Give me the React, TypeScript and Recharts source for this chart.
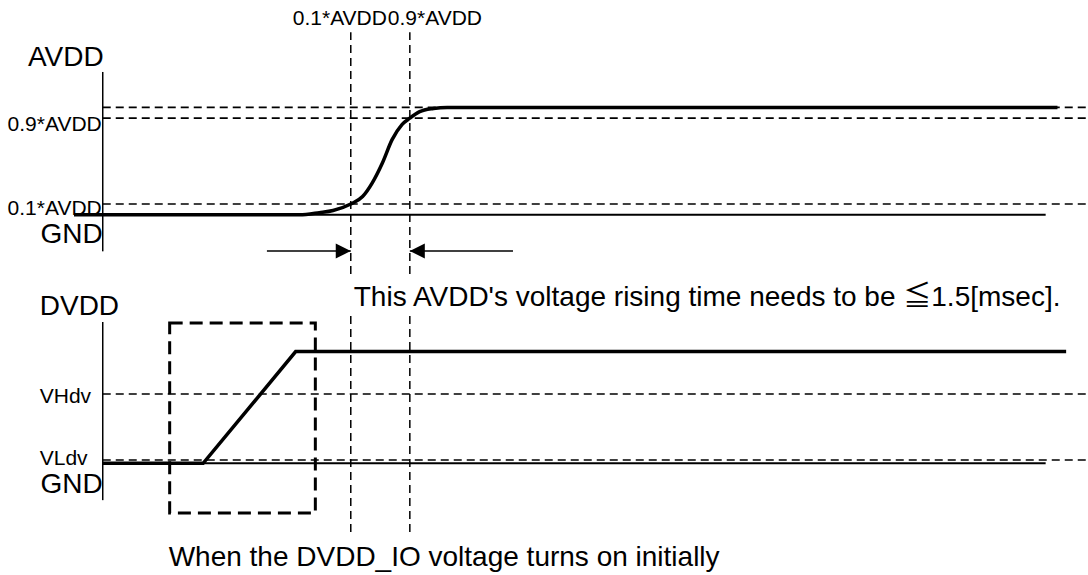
import React from "react";
import {
  ComposedChart,
  Line,
  Scatter,
  XAxis,
  YAxis,
  ReferenceLine,
  ReferenceArea,
  Label,
} from "recharts";

const FONT = '"Liberation Sans", Arial, "Noto Sans CJK JP", sans-serif';

// time in msec, levels as a fraction of the supply voltage
const timeDomain = [-2, 25];

// AVDD waveform (top panel)
const avddTime = [-0.73, 5.0, 5.5, 5.85, 6.3, 6.6, 6.85, 7.1, 7.35, 7.6, 7.8, 8.05, 8.4, 8.75, 24.25];
const avddLevel = [0, 0, 0.02, 0.04, 0.1, 0.17, 0.3, 0.48, 0.7, 0.84, 0.9, 0.96, 0.99, 1, 1];
const avddRefLevels = [1, 0.9, 0.1];
const avddRefLabels = ["", "0.9*AVDD", "0.1*AVDD"];
const avddGndSpan = [-0.73, 23.95];

// rise time markers (0.1 -> 0.9 of AVDD)
const riseMarks = [6.3, 7.8];
const riseMarkLabels = ["0.1*AVDD", "0.9*AVDD"];
const riseArrowEnds = [4.17, 10.42];

// DVDD waveform (bottom panel)
const dvddTime = [0, 2.55, 4.9, 24.47];
const dvddLevel = [0, 0, 1, 1];
const dvddRefLevels = [0.62, 0.03];
const dvddRefLabels = ["VHdv", "VLdv"];
const dvddGndSpan = [0, 23.95];
const ioWindow = [1.7, 5.4];

const avddData = avddTime.map((t, i) => ({ t, v: avddLevel[i] }));
const dvddData = dvddTime.map((t, i) => ({ t, v: dvddLevel[i] }));
const arrowData = [
  { t: riseMarks[0], v: -0.337, dir: 1 },
  { t: riseMarks[1], v: -0.337, dir: -1 },
];

type NoteOpts = {
  dx?: number;
  dy?: number;
  size?: number;
  anchor?: "start" | "middle" | "end";
  at?: "top" | "bottom";
};

// text placed relative to the element it is attached to
const note =
  (text: string, { dx = 0, dy = 0, size = 21, anchor = "end", at = "top" }: NoteOpts) =>
  (props: any) => {
    const vb = props.viewBox || { x: 0, y: 0, width: 0, height: 0 };
    const y = at === "top" ? vb.y : vb.y + vb.height;
    return (
      <text x={vb.x + dx} y={y + dy} fontSize={size} textAnchor={anchor} fontFamily={FONT} fill="#000">
        {text}
      </text>
    );
  };

const arrowHead = (p: any) => {
  const d = p.payload.dir;
  const { cx, cy } = p;
  return <polygon points={`${cx},${cy} ${cx - d * 15},${cy - 7.5} ${cx - d * 15},${cy + 7.5}`} fill="#000" />;
};

const dash = "8 5";

export default function App() {
  return (
    <div style={{ position: "absolute", left: 0, top: 0, width: 1088, height: 575, background: "#fff" }}>
      <div style={{ position: "absolute", left: 0, top: 0 }}>
        <ComposedChart width={1088} height={290} margin={{ top: 0, right: 1, bottom: 0, left: 24 }}>
          <XAxis type="number" dataKey="t" domain={timeDomain} allowDataOverflow hide />
          <YAxis type="number" domain={[-0.7, 2]} allowDataOverflow hide />
          {avddRefLevels.map((v, i) => (
            <ReferenceLine
              key={"a" + v}
              segment={[{ x: 0, y: v }, { x: 25, y: v }]}
              stroke="#000"
              strokeWidth={1.6}
              strokeDasharray={dash}
            >
              {avddRefLabels[i] ? <Label content={note(avddRefLabels[i], { dx: -1, dy: i === 1 ? 13 : 11 })} /> : null}
            </ReferenceLine>
          ))}
          <ReferenceLine
            segment={[{ x: avddGndSpan[0], y: 0 }, { x: avddGndSpan[1], y: 0 }]}
            stroke="#000"
            strokeWidth={2}
          />
          <ReferenceLine segment={[{ x: 0, y: -0.34 }, { x: 0, y: 1.33 }]} stroke="#000" strokeWidth={1.5}>
            <Label content={note("AVDD", { dx: 1, dy: -6, size: 28 })} />
            <Label content={note("GND", { dx: 0, dy: -8, size: 28, at: "bottom" })} />
          </ReferenceLine>
          {riseMarks.map((t, i) => (
            <ReferenceLine
              key={"m" + t}
              segment={[{ x: t, y: -0.55 }, { x: t, y: 1.7 }]}
              stroke="#000"
              strokeWidth={1.5}
              strokeDasharray={dash}
            >
              <Label content={note(riseMarkLabels[i], { dx: i === 0 ? -58 : -22, dy: -7, anchor: "start" })} />
            </ReferenceLine>
          ))}
          <ReferenceLine
            segment={[{ x: riseArrowEnds[0], y: -0.337 }, { x: riseMarks[0], y: -0.337 }]}
            stroke="#000"
            strokeWidth={1.5}
          />
          <ReferenceLine
            segment={[{ x: riseMarks[1], y: -0.337 }, { x: riseArrowEnds[1], y: -0.337 }]}
            stroke="#000"
            strokeWidth={1.5}
          />
          <Scatter data={arrowData} dataKey="v" shape={arrowHead} isAnimationActive={false} />
          <Line
            data={avddData}
            dataKey="v"
            type="monotone"
            stroke="#000"
            strokeWidth={3.5}
            dot={false}
            activeDot={false}
            isAnimationActive={false}
          />
        </ComposedChart>
      </div>

      <div style={{ position: "absolute", left: 0, top: 260 }}>
        <ComposedChart width={1088} height={315} margin={{ top: 0, right: 1, bottom: 0, left: 24 }}>
          <XAxis type="number" dataKey="t" domain={timeDomain} allowDataOverflow hide />
          <YAxis type="number" domain={[-1, 1.82]} allowDataOverflow hide />
          {dvddRefLevels.map((v, i) => (
            <ReferenceLine
              key={"d" + v}
              segment={[{ x: 0, y: v }, { x: 25, y: v }]}
              stroke="#000"
              strokeWidth={1.6}
              strokeDasharray={dash}
            >
              <Label content={note(dvddRefLabels[i], { dx: -63, dy: i === 0 ? 9 : 5, anchor: "start" })} />
            </ReferenceLine>
          ))}
          <ReferenceLine
            segment={[{ x: dvddGndSpan[0], y: 0 }, { x: dvddGndSpan[1], y: 0 }]}
            stroke="#000"
            strokeWidth={2}
          />
          <ReferenceLine segment={[{ x: 0, y: -0.33 }, { x: 0, y: 1.265 }]} stroke="#000" strokeWidth={1.5}>
            <Label content={note("DVDD", { dx: -63, dy: -7, size: 28, anchor: "start" })} />
            <Label content={note("GND", { dx: 0, dy: -7, size: 28, at: "bottom" })} />
          </ReferenceLine>
          {riseMarks.map((t, i) => (
            <ReferenceLine
              key={"n" + t}
              segment={[{ x: t, y: -0.615 }, { x: t, y: 1.328 }]}
              stroke="#000"
              strokeWidth={1.5}
              strokeDasharray={dash}
            >
              {i === 0 ? (
                <Label
                  content={note("This AVDD's voltage rising time needs to be \u22661.5[msec].", {
                    dx: 3,
                    dy: -9,
                    size: 28,
                    anchor: "start",
                  })}
                />
              ) : null}
            </ReferenceLine>
          ))}
          <ReferenceArea
            x1={ioWindow[0]}
            x2={ioWindow[1]}
            y1={-0.445}
            y2={1.255}
            fill="none"
            fillOpacity={0}
            stroke="#000"
            strokeWidth={3}
            strokeDasharray="13 7"
          >
            <Label
              content={note("When the DVDD_IO voltage turns on initially", {
                dx: -1,
                dy: 53,
                size: 28,
                anchor: "start",
                at: "bottom",
              })}
            />
          </ReferenceArea>
          <Line
            data={dvddData}
            dataKey="v"
            type="linear"
            stroke="#000"
            strokeWidth={3.5}
            dot={false}
            activeDot={false}
            isAnimationActive={false}
          />
        </ComposedChart>
      </div>
    </div>
  );
}
